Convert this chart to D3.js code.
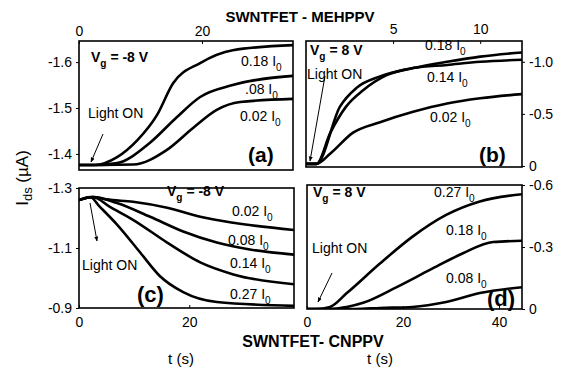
<!DOCTYPE html>
<html>
<head>
<meta charset="utf-8">
<script src="https://cdnjs.cloudflare.com/ajax/libs/d3/7.8.5/d3.min.js"></script>
<style>
body { margin: 0; background: #fff; }
svg { font-family: "Liberation Sans", Arial, sans-serif; }
.tick-label { font-size: 14px; }
.curve { fill: none; stroke: #000; stroke-width: 2.6; }
.frame { fill: none; stroke: #000; stroke-width: 1.6; }
</style>
</head>
<body>
<div id="chartArea"></div>
<script>
// panel (a): SWNTFET-MEHPPV, Vg = -8 V   [t (s), Ids (uA)]
var a018 = [[0,-1.376],[2.6,-1.376],[6.2,-1.393],[9.5,-1.43],[12.7,-1.485],[15.3,-1.554],[19.7,-1.598],[25,-1.626],[34.8,-1.637]];
var a008 = [[0,-1.376],[3,-1.376],[6.2,-1.38],[11.5,-1.424],[15.9,-1.48],[19.7,-1.524],[25,-1.55],[34.8,-1.57]];
var a002 = [[0,-1.376],[4,-1.376],[8.8,-1.377],[14.3,-1.409],[18.5,-1.456],[22.4,-1.496],[26.2,-1.513],[34.8,-1.52]];

// panel (b): SWNTFET-MEHPPV, Vg = 8 V
var b018 = [[0,-0.02],[0.6,-0.02],[1.95,-0.57],[2.9,-0.75],[4.25,-0.86],[6.15,-0.94],[8.1,-1.0],[10,-1.05],[12.4,-1.09]];
var b014 = [[0,-0.02],[0.6,-0.02],[1.4,-0.32],[2.3,-0.57],[3.3,-0.73],[4.6,-0.87],[6.15,-0.94],[8.1,-0.97],[10,-1.0],[12.4,-1.02]];
var b002 = [[0,-0.02],[0.6,-0.02],[1.4,-0.12],[2.7,-0.32],[4.25,-0.42],[6.15,-0.52],[8.1,-0.6],[10,-0.65],[12.4,-0.69]];

// panel (c): SWNTFET-CNPPV, Vg = -8 V
var c002 = [[0,-1.26],[2.5,-1.27],[5,-1.262],[9.8,-1.254],[16,-1.234],[22,-1.204],[28,-1.184],[39,-1.16]];
var c008 = [[0,-1.26],[2.5,-1.27],[6.9,-1.25],[12.9,-1.204],[18.9,-1.155],[25,-1.118],[31,-1.095],[39,-1.078]];
var c014 = [[0,-1.26],[2.5,-1.27],[5.6,-1.237],[9.8,-1.194],[16,-1.118],[22,-1.052],[28,-1.012],[39,-0.979]];
var c027 = [[0,-1.26],[2,-1.27],[3.8,-1.237],[6.9,-1.178],[11.1,-1.085],[14.7,-1.006],[18.9,-0.953],[25,-0.92],[39,-0.907]];

// panel (d): SWNTFET-CNPPV, Vg = 8 V
var d027 = [[0,0],[2,0],[4.8,-0.01],[8.3,-0.077],[15.2,-0.22],[22,-0.35],[29,-0.455],[36,-0.52],[45,-0.556]];
var d018 = [[0,0],[5,0],[8.3,-0.01],[11.7,-0.03],[18.7,-0.106],[25.6,-0.189],[32.5,-0.27],[38.8,-0.324],[45,-0.33]];
var d008 = [[0,0],[10,0],[15.2,-0.005],[22,-0.01],[29,-0.034],[36,-0.077],[45,-0.106]];

var ticksA = [-1.6, -1.5, -1.4], ticksB = [-1.0, -0.5, 0];
var ticksC = [-1.3, -1.1, -0.9], ticksD = [-0.6, -0.3, 0];
var xTicksA = [0, 20], xTicksB = [5, 10], xTicksC = [0, 20], xTicksD = [0, 20, 40];

var svg = d3.select('#chartArea').append('svg')
    .attr('width', 561)
    .attr('height', 368);

// plain hyphen minus, as in the figure
var yFmt = function (d) { return d === 0 ? '0' : (d < 0 ? '-' : '') + Math.abs(d).toFixed(1); };
var xFmt = function (d) { return String(d); };

function panel(opt) {
    var g = svg.append('g');
    var x = d3.scaleLinear().domain(opt.xd).range([opt.x0, opt.x1]);
    var y = d3.scaleLinear().domain(opt.yd).range([opt.y1, opt.y0]);

    var clipId = 'clip' + opt.name;
    svg.append('clipPath').attr('id', clipId).append('rect')
        .attr('x', opt.x0).attr('y', opt.y0)
        .attr('width', opt.x1 - opt.x0).attr('height', opt.y1 - opt.y0);

    var line = d3.line()
        .x(function (d) { return x(d[0]); })
        .y(function (d) { return y(d[1]); })
        .curve(d3.curveMonotoneX);

    g.append('g').attr('clip-path', 'url(#' + clipId + ')')
        .selectAll('path')
        .data(opt.series)
        .enter()
        .append('path')
        .attr('class', 'curve')
        .attr('d', line);

    g.append('rect').attr('class', 'frame')
        .attr('x', opt.x0).attr('y', opt.y0)
        .attr('width', opt.x1 - opt.x0).attr('height', opt.y1 - opt.y0);

    // y axis, left or right
    var yAxis = (opt.yRight ? d3.axisRight(y) : d3.axisLeft(y))
        .tickValues(opt.yTicks).tickSize(3).tickPadding(4).tickFormat(yFmt);
    g.append('g')
        .attr('transform', 'translate(' + (opt.yRight ? opt.x1 : opt.x0) + ',0)')
        .call(yAxis)
        .call(function (s) {
            s.select('.domain').remove();
            s.selectAll('text').attr('class', 'tick-label').attr('font-size', null).attr('font-family', null);
        });

    // x axis, top or bottom
    var xAxis = (opt.xTop ? d3.axisTop(x) : d3.axisBottom(x))
        .tickValues(opt.xTicks).tickSizeInner(-3).tickSizeOuter(0).tickPadding(opt.xPad).tickFormat(xFmt);
    g.append('g')
        .attr('transform', 'translate(0,' + (opt.xTop ? opt.y0 : opt.y1) + ')')
        .call(xAxis)
        .call(function (s) {
            s.select('.domain').remove();
            s.selectAll('text').attr('class', 'tick-label').attr('font-size', null).attr('font-family', null);
        });

    // annotations
    opt.labels.forEach(function (l) {
        var size = l[3] || 14;
        var t = g.append('text')
            .attr('x', l[0]).attr('y', l[1])
            .attr('font-size', size)
            .attr('font-weight', l[4] || 'normal');
        if (typeof l[2] === 'object') {
            t.append('tspan').text(l[2].main);
            t.append('tspan').attr('font-size', size * 0.72).attr('dy', 5).text(l[2].sub);
            t.append('tspan').attr('dy', -5).text(l[2].rest);
        } else {
            t.text(l[2]);
        }
    });

    // light ON arrow
    var a = opt.arrow;
    g.append('line')
        .attr('x1', a[0]).attr('y1', a[1]).attr('x2', a[2]).attr('y2', a[3])
        .attr('stroke', '#000').attr('stroke-width', 1)
        .attr('marker-end', 'url(#arr)');
}

svg.append('defs').append('marker')
    .attr('id', 'arr').attr('viewBox', '0 0 10 10')
    .attr('refX', 9).attr('refY', 5)
    .attr('markerWidth', 5).attr('markerHeight', 5)
    .attr('orient', 'auto')
    .append('path').attr('d', 'M0,1L10,5L0,9z').attr('fill', '#000');

function io(v) { return {main: v + ' I', sub: '0', rest: ''}; }

panel({
    name: 'a', x0: 79, x1: 293, y0: 41, y1: 170,
    xd: [0, 34.8], yd: [-1.365, -1.646],
    series: [a018, a008, a002],
    yTicks: ticksA, xTicks: xTicksA, xTop: true, xPad: 5,
    labels: [
        [91, 62, {main: 'V', sub: 'g', rest: ' = -8 V'}, 14, 'bold'],
        [241, 66, io('0.18')],
        [245, 94, io('.08')],
        [240, 121, io('0.02')],
        [88, 118, 'Light ON'],
        [248, 162, '(a)', 21, 'bold']
    ],
    arrow: [103, 134, 91, 162]
});

panel({
    name: 'b', x0: 306, x1: 522, y0: 41, y1: 167,
    xd: [0, 12.4], yd: [0.01, -1.2],
    series: [b018, b014, b002],
    yTicks: ticksB, xTicks: xTicksB, xTop: true, xPad: 7, yRight: true,
    labels: [
        [310, 55, {main: 'V', sub: 'g', rest: ' = 8 V'}, 14, 'bold'],
        [425, 50, io('0.18')],
        [427, 82, io('0.14')],
        [430, 122, io('0.02')],
        [307, 79, 'Light ON'],
        [479, 162, '(b)', 21, 'bold']
    ],
    arrow: [325, 76, 310, 161]
});

panel({
    name: 'c', x0: 79, x1: 294, y0: 188, y1: 308,
    xd: [0, 39], yd: [-0.9, -1.3],
    series: [c002, c008, c014, c027],
    yTicks: ticksC, xTicks: xTicksC, xTop: false, xPad: 9,
    labels: [
        [167, 196, {main: 'V', sub: 'g', rest: ' = -8 V'}, 14, 'bold'],
        [232, 216, io('0.02')],
        [228, 245, io('0.08')],
        [230, 268, io('0.14')],
        [230, 299, io('0.27')],
        [82, 270, 'Light ON'],
        [137, 302, '(c)', 22, 'bold']
    ],
    arrow: [90, 203, 97, 241]
});

panel({
    name: 'd', x0: 307, x1: 522, y0: 185, y1: 309,
    xd: [0, 44.8], yd: [0, -0.6],
    series: [d027, d018, d008],
    yTicks: ticksD, xTicks: xTicksD, xTop: false, xPad: 8, yRight: true,
    labels: [
        [313, 197, {main: 'V', sub: 'g', rest: ' = 8 V'}, 14, 'bold'],
        [434, 197, io('0.27')],
        [446, 235, io('0.18')],
        [446, 283, io('0.08')],
        [312, 253, 'Light ON'],
        [487, 306, '(d)', 22, 'bold']
    ],
    arrow: [332, 273, 318, 302]
});

// titles and axis names
svg.append('text').attr('x', 300).attr('y', 22).attr('text-anchor', 'middle')
    .attr('font-size', 15).attr('font-weight', 'bold').text('SWNTFET - MEHPPV');
svg.append('text').attr('x', 313).attr('y', 347).attr('text-anchor', 'middle')
    .attr('font-size', 16).attr('font-weight', 'bold').text('SWNTFET- CNPPV');
svg.append('text').attr('x', 181).attr('y', 364).attr('text-anchor', 'middle')
    .attr('font-size', 15).text('t (s)');
svg.append('text').attr('x', 380).attr('y', 364).attr('text-anchor', 'middle')
    .attr('font-size', 15).text('t (s)');

var yl = svg.append('text')
    .attr('transform', 'translate(28,178) rotate(-90)')
    .attr('text-anchor', 'middle').attr('font-size', 17);
yl.append('tspan').text('I');
yl.append('tspan').attr('font-size', 13).attr('dy', 4).text('ds');
yl.append('tspan').attr('dy', -4).text(' (\u00b5A)');
</script>
</body>
</html>
